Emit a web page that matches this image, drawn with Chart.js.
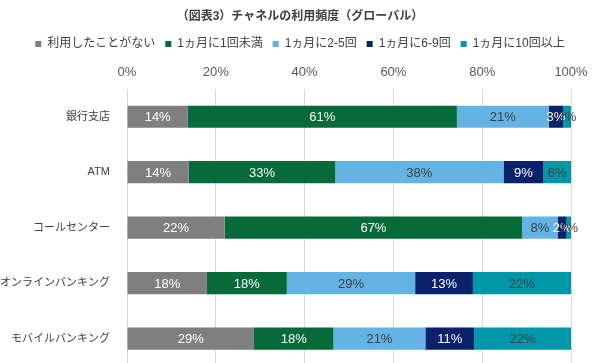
<!DOCTYPE html>
<html>
<head>
<meta charset="utf-8">
<script src="https://cdn.jsdelivr.net/npm/chart.js@4"></script>
<style>
  html, body { margin:0; padding:0; background:#fff; overflow:hidden; }
  /* a little taller than the window: the last row runs off the bottom edge like the original */
  #wrap { width:600px; height:382px; }
</style>
</head>
<body>
<div id="wrap"><canvas id="chart"></canvas></div>
<script>
// ---- data ----
const channels   = ['銀行支店','ATM','コールセンター','オンラインバンキング','モバイルバンキング'];
const seriesNames = ['利用したことがない','1ヵ月に1回未満','1ヵ月に2-5回','1ヵ月に6-9回','1ヵ月に10回以上'];
const neverUsed  = [13.7, 13.9, 22.0, 18.0, 28.6];
const lessOnce   = [60.6, 33.0, 67.0, 18.0, 17.9];
const twoToFive  = [20.7, 37.9,  8.0, 28.9, 20.7];
const sixToNine  = [ 3.2,  9.0,  2.0, 13.0, 11.0];
const tenPlus    = [ 1.8,  6.2,  1.0, 22.1, 21.8];
const xTicks     = [0, 20, 40, 60, 80, 100];

const FONT = "'Liberation Sans', Arial, 'Noto Sans CJK JP', sans-serif";
const colors    = ['#7f7f7f','#066b38','#63b4e4','#0a216b','#0097a9'];
const lblColors = ['#ffffff','#ffffff','#404040','#ffffff','#404040'];

const segLabels = {
  id: 'segLabels',
  afterInit(chart){
    // legend sits a bit tighter on the axis than chart.js default
    const lg = chart.legend;
    if(lg){
      const fit = lg.fit;
      lg.fit = function(){ fit.call(this); this.height -= 4.6; };
    }
  },
  // value labels in the middle of each segment
  afterDatasetsDraw(chart){
    const ctx = chart.ctx;
    ctx.save();
    ctx.font = '13px ' + FONT;
    ctx.textAlign = 'center';
    ctx.textBaseline = 'middle';
    chart.data.datasets.forEach((ds, di) => {
      chart.getDatasetMeta(di).data.forEach((bar, i) => {
        ctx.fillStyle = lblColors[di];
        ctx.fillText(Math.round(ds.data[i]) + '%', (bar.x + bar.base) / 2, bar.y + 1);
      });
    });
    ctx.restore();
  }
};

const allSeries = [neverUsed, lessOnce, twoToFive, sixToNine, tenPlus];

new Chart(document.getElementById('chart'), {
  type: 'bar',
  data: {
    labels: channels,
    datasets: allSeries.map((d, i) => ({
      label: seriesNames[i],
      data: d,
      backgroundColor: colors[i],
      borderWidth: 0,
      categoryPercentage: 1,
      barPercentage: 0.4
    }))
  },
  options: {
    indexAxis: 'y',
    responsive: true, maintainAspectRatio: false,
    animation: false,
    layout: { padding: 0 },
    plugins: {
      title: {
        display: true,
        text: '（図表3）チャネルの利用頻度（グローバル）',
        color: '#404040',
        font: { family: FONT, size: 12, weight: 'bold' },
        padding: { top: 9, bottom: 4.6 }
      },
      legend: {
        position: 'top',
        labels: { color: '#404040', font: { family: FONT, size: 12 }, boxWidth: 6, boxHeight: 6, padding: 10 }
      },
      tooltip: { enabled: false }
    },
    scales: {
      x: {
        position: 'top',
        stacked: true,
        min: 0, max: 100,
        afterBuildTicks: s => { s.ticks = xTicks.map(v => ({ value: v })); },
        grid: { color: '#d9d9d9', drawTicks: false },
        border: { display: false },
        ticks: { color: '#595959', font: { family: FONT, size: 13 }, padding: 9, callback: v => v + '%' }
      },
      y: {
        stacked: true,
        afterFit: s => { s.width = 127; },
        grid: { display: false },
        border: { display: false },
        ticks: { color: '#404040', font: { family: FONT, size: 11 }, padding: 9 }
      },
      // empty right-hand axis, only keeps the plot off the right edge
      yRight: {
        type: 'category',
        position: 'right',
        afterFit: s => { s.width = 29; },
        grid: { display: false },
        border: { display: false },
        ticks: { display: false }
      }
    }
  },
  plugins: [segLabels]
});
</script>
</body>
</html>
